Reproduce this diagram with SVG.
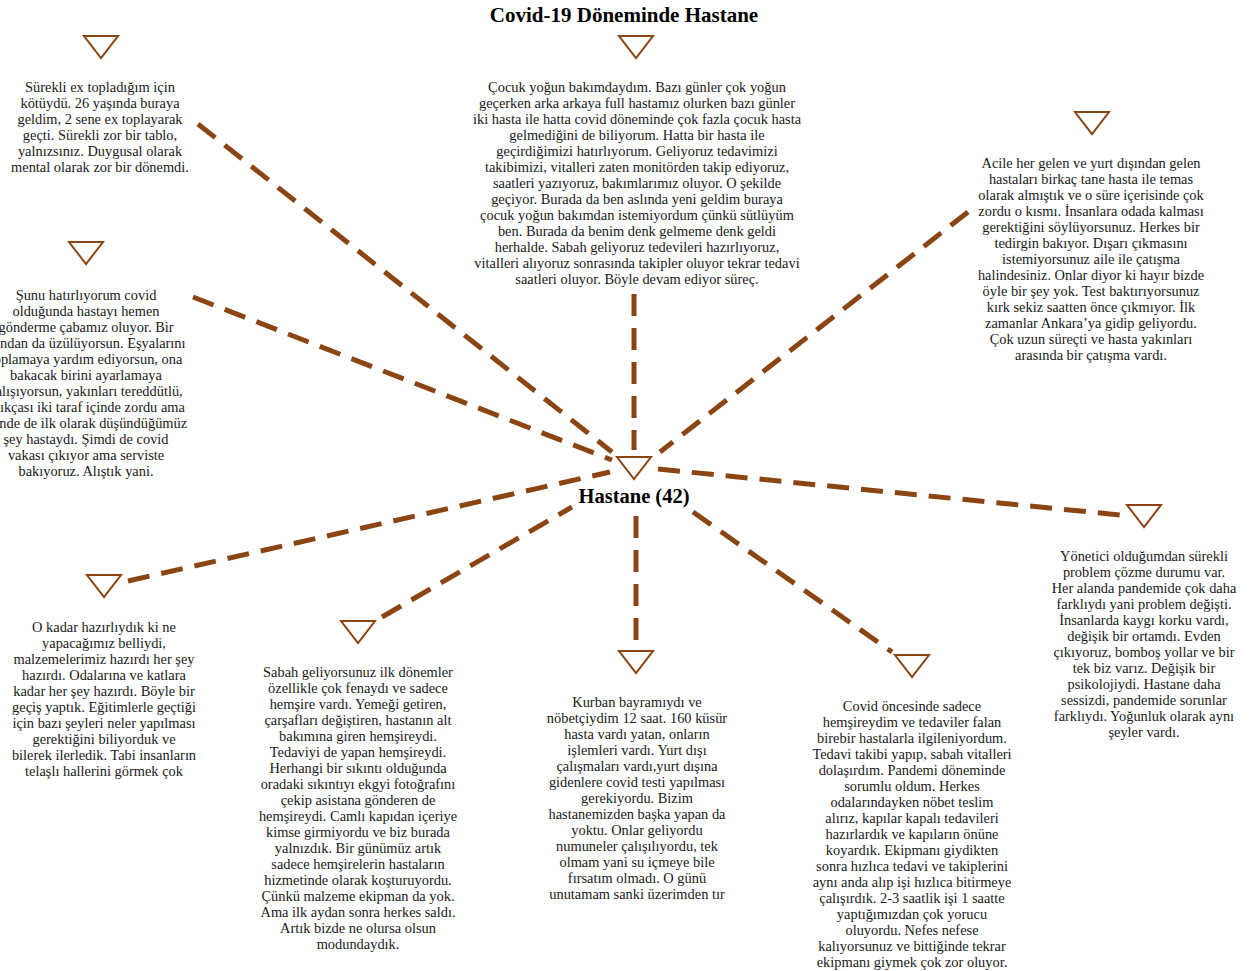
<svg xmlns="http://www.w3.org/2000/svg" width="1257" height="971" viewBox="0 0 1257 971">
<style>
.bg{fill:#ffffff}
.tri{fill:#ffffff;stroke:#8b4513;stroke-width:2;stroke-linejoin:miter}
.t{font-family:"Liberation Serif","Times New Roman",serif;font-size:14.4px;fill:#1a1a1a;text-anchor:middle}
.title{font-family:"Liberation Serif","Times New Roman",serif;font-size:21px;font-weight:bold;fill:#000;text-anchor:middle}
.hub{font-family:"Liberation Serif","Times New Roman",serif;font-size:20.5px;font-weight:bold;fill:#000;text-anchor:middle}
.c{stroke:#8b4513;stroke-width:5;stroke-dasharray:22 12;fill:none}
</style>
<rect class="bg" x="0" y="0" width="1257" height="971"/>
<text class="title" x="624" y="22">Covid-19 Döneminde Hastane</text>

<g id="connectors">
<line class="c" x1="198" y1="124" x2="612" y2="452"/>
<line class="c" x1="634" y1="294" x2="634" y2="450"/>
<line class="c" x1="968" y1="212" x2="660" y2="452"/>
<line class="c" x1="193" y1="297" x2="612" y2="460"/>
<line class="c" x1="128" y1="581" x2="610" y2="472"/>
<line class="c" x1="382" y1="617" x2="572" y2="507"/>
<line class="c" x1="636" y1="516" x2="636" y2="640"/>
<line class="c" x1="693" y1="512" x2="892" y2="652"/>
<line class="c" x1="658" y1="469" x2="1120" y2="515"/>
</g>

<g id="hub">
<path class="tri" d="M617,457 L651,457 L634,479 Z"/>
<text class="hub" x="634" y="503">Hastane (42)</text>
</g>

<g id="node1">
<path class="tri" d="M84,36 L118,36 L101,58 Z"/>
<text class="t"><tspan x="100" y="92">Sürekli ex topladığım için</tspan><tspan x="100" dy="16">kötüydü. 26 yaşında buraya</tspan><tspan x="100" dy="16">geldim, 2 sene ex toplayarak</tspan><tspan x="100" dy="16">geçti. Sürekli zor bir tablo,</tspan><tspan x="100" dy="16">yalnızsınız. Duygusal olarak</tspan><tspan x="100" dy="16">mental olarak zor bir dönemdi.</tspan></text>
</g>

<g id="node2">
<path class="tri" d="M619,36 L653,36 L636,58 Z"/>
<text class="t"><tspan x="637" y="92">Çocuk yoğun bakımdaydım. Bazı günler çok yoğun</tspan><tspan x="637" dy="16">geçerken arka arkaya full hastamız olurken bazı günler</tspan><tspan x="637" dy="16">iki hasta ile hatta covid döneminde çok fazla çocuk hasta</tspan><tspan x="637" dy="16">gelmediğini de biliyorum. Hatta bir hasta ile</tspan><tspan x="637" dy="16">geçirdiğimizi hatırlıyorum. Geliyoruz tedavimizi</tspan><tspan x="637" dy="16">takibimizi, vitalleri zaten monitörden takip ediyoruz,</tspan><tspan x="637" dy="16">saatleri yazıyoruz, bakımlarımız oluyor. O şekilde</tspan><tspan x="637" dy="16">geçiyor. Burada da ben aslında yeni geldim buraya</tspan><tspan x="637" dy="16">çocuk yoğun bakımdan istemiyordum çünkü sütlüyüm</tspan><tspan x="637" dy="16">ben. Burada da benim denk gelmeme denk geldi</tspan><tspan x="637" dy="16">herhalde. Sabah geliyoruz tedevileri hazırlıyoruz,</tspan><tspan x="637" dy="16">vitalleri alıyoruz sonrasında takipler oluyor tekrar tedavi</tspan><tspan x="637" dy="16">saatleri oluyor. Böyle devam ediyor süreç.</tspan></text>
</g>

<g id="node3">
<path class="tri" d="M1075,112 L1109,112 L1092,134 Z"/>
<text class="t"><tspan x="1091" y="168">Acile her gelen ve yurt dışından gelen</tspan><tspan x="1091" dy="16">hastaları birkaç tane hasta ile temas</tspan><tspan x="1091" dy="16">olarak almıştık ve o süre içerisinde çok</tspan><tspan x="1091" dy="16">zordu o kısmı. İnsanlara odada kalması</tspan><tspan x="1091" dy="16">gerektiğini söylüyorsunuz. Herkes bir</tspan><tspan x="1091" dy="16">tedirgin bakıyor. Dışarı çıkmasını</tspan><tspan x="1091" dy="16">istemiyorsunuz aile ile çatışma</tspan><tspan x="1091" dy="16">halindesiniz. Onlar diyor ki hayır bizde</tspan><tspan x="1091" dy="16">öyle bir şey yok. Test baktırıyorsunuz</tspan><tspan x="1091" dy="16">kırk sekiz saatten önce çıkmıyor. İlk</tspan><tspan x="1091" dy="16">zamanlar Ankara’ya gidip geliyordu.</tspan><tspan x="1091" dy="16">Çok uzun süreçti ve hasta yakınları</tspan><tspan x="1091" dy="16">arasında bir çatışma vardı.</tspan></text>
</g>

<g id="node4">
<path class="tri" d="M69,242 L103,242 L86,264 Z"/>
<text class="t"><tspan x="86" y="300">Şunu hatırlıyorum covid</tspan><tspan x="86" dy="16">olduğunda hastayı hemen</tspan><tspan x="86" dy="16">gönderme çabamız oluyor. Bir</tspan><tspan x="86" dy="16">yandan da üzülüyorsun. Eşyalarını</tspan><tspan x="86" dy="16">toplamaya yardım ediyorsun, ona</tspan><tspan x="86" dy="16">bakacak birini ayarlamaya</tspan><tspan x="86" dy="16">çalışıyorsun, yakınları tereddütlü,</tspan><tspan x="86" dy="16">açıkçası iki taraf içinde zordu ama</tspan><tspan x="86" dy="16">içinde de ilk olarak düşündüğümüz</tspan><tspan x="86" dy="16">şey hastaydı. Şimdi de covid</tspan><tspan x="86" dy="16">vakası çıkıyor ama serviste</tspan><tspan x="86" dy="16">bakıyoruz. Alıştık yani.</tspan></text>
</g>

<g id="node5">
<path class="tri" d="M87,575 L121,575 L104,597 Z"/>
<text class="t"><tspan x="104" y="632">O kadar hazırlıydık ki ne</tspan><tspan x="104" dy="16">yapacağımız belliydi,</tspan><tspan x="104" dy="16">malzemelerimiz hazırdı her şey</tspan><tspan x="104" dy="16">hazırdı. Odalarına ve katlara</tspan><tspan x="104" dy="16">kadar her şey hazırdı. Böyle bir</tspan><tspan x="104" dy="16">geçiş yaptık. Eğitimlerle geçtiği</tspan><tspan x="104" dy="16">için bazı şeyleri neler yapılması</tspan><tspan x="104" dy="16">gerektiğini biliyorduk ve</tspan><tspan x="104" dy="16">bilerek ilerledik. Tabi insanların</tspan><tspan x="104" dy="16">telaşlı hallerini görmek çok</tspan></text>
</g>

<g id="node6">
<path class="tri" d="M341,621 L375,621 L358,643 Z"/>
<text class="t"><tspan x="358" y="677">Sabah geliyorsunuz ilk dönemler</tspan><tspan x="358" dy="16">özellikle çok fenaydı ve sadece</tspan><tspan x="358" dy="16">hemşire vardı. Yemeği getiren,</tspan><tspan x="358" dy="16">çarşafları değiştiren, hastanın alt</tspan><tspan x="358" dy="16">bakımına giren hemşireydi.</tspan><tspan x="358" dy="16">Tedaviyi de yapan hemşireydi.</tspan><tspan x="358" dy="16">Herhangi bir sıkıntı olduğunda</tspan><tspan x="358" dy="16">oradaki sıkıntıyı ekgyi fotoğrafını</tspan><tspan x="358" dy="16">çekip asistana gönderen de</tspan><tspan x="358" dy="16">hemşireydi. Camlı kapıdan içeriye</tspan><tspan x="358" dy="16">kimse girmiyordu ve biz burada</tspan><tspan x="358" dy="16">yalnızdık. Bir günümüz artık</tspan><tspan x="358" dy="16">sadece hemşirelerin hastaların</tspan><tspan x="358" dy="16">hizmetinde olarak koşturuyordu.</tspan><tspan x="358" dy="16">Çünkü malzeme ekipman da yok.</tspan><tspan x="358" dy="16">Ama ilk aydan sonra herkes saldı.</tspan><tspan x="358" dy="16">Artık bizde ne olursa olsun</tspan><tspan x="358" dy="16">modundaydık.</tspan></text>
</g>

<g id="node7">
<path class="tri" d="M619,651 L653,651 L636,673 Z"/>
<text class="t"><tspan x="637" y="707">Kurban bayramıydı ve</tspan><tspan x="637" dy="16">nöbetçiydim 12 saat. 160 küsür</tspan><tspan x="637" dy="16">hasta vardı yatan, onların</tspan><tspan x="637" dy="16">işlemleri vardı. Yurt dışı</tspan><tspan x="637" dy="16">çalışmaları vardı,yurt dışına</tspan><tspan x="637" dy="16">gidenlere covid testi yapılması</tspan><tspan x="637" dy="16">gerekiyordu. Bizim</tspan><tspan x="637" dy="16">hastanemizden başka yapan da</tspan><tspan x="637" dy="16">yoktu. Onlar geliyordu</tspan><tspan x="637" dy="16">numuneler çalışılıyordu, tek</tspan><tspan x="637" dy="16">olmam yani su içmeye bile</tspan><tspan x="637" dy="16">fırsatım olmadı. O günü</tspan><tspan x="637" dy="16">unutamam sanki üzerimden tır</tspan></text>
</g>

<g id="node8">
<path class="tri" d="M895,655 L929,655 L912,677 Z"/>
<text class="t"><tspan x="912" y="711">Covid öncesinde sadece</tspan><tspan x="912" dy="16">hemşireydim ve tedaviler falan</tspan><tspan x="912" dy="16">birebir hastalarla ilgileniyordum.</tspan><tspan x="912" dy="16">Tedavi takibi yapıp, sabah vitalleri</tspan><tspan x="912" dy="16">dolaşırdım. Pandemi döneminde</tspan><tspan x="912" dy="16">sorumlu oldum. Herkes</tspan><tspan x="912" dy="16">odalarındayken nöbet teslim</tspan><tspan x="912" dy="16">alırız, kapılar kapalı tedavileri</tspan><tspan x="912" dy="16">hazırlardık ve kapıların önüne</tspan><tspan x="912" dy="16">koyardık. Ekipmanı giydikten</tspan><tspan x="912" dy="16">sonra hızlıca tedavi ve takiplerini</tspan><tspan x="912" dy="16">aynı anda alıp işi hızlıca bitirmeye</tspan><tspan x="912" dy="16">çalışırdık. 2-3 saatlik işi 1 saatte</tspan><tspan x="912" dy="16">yaptığımızdan çok yorucu</tspan><tspan x="912" dy="16">oluyordu. Nefes nefese</tspan><tspan x="912" dy="16">kalıyorsunuz ve bittiğinde tekrar</tspan><tspan x="912" dy="16">ekipmanı giymek çok zor oluyor.</tspan></text>
</g>

<g id="node9">
<path class="tri" d="M1127,505 L1161,505 L1144,527 Z"/>
<text class="t"><tspan x="1144" y="561">Yönetici olduğumdan sürekli</tspan><tspan x="1144" dy="16">problem çözme durumu var.</tspan><tspan x="1144" dy="16">Her alanda pandemide çok daha</tspan><tspan x="1144" dy="16">farklıydı yani problem değişti.</tspan><tspan x="1144" dy="16">İnsanlarda kaygı korku vardı,</tspan><tspan x="1144" dy="16">değişik bir ortamdı. Evden</tspan><tspan x="1144" dy="16">çıkıyoruz, bomboş yollar ve bir</tspan><tspan x="1144" dy="16">tek biz varız. Değişik bir</tspan><tspan x="1144" dy="16">psikolojiydi. Hastane daha</tspan><tspan x="1144" dy="16">sessizdi, pandemide sorunlar</tspan><tspan x="1144" dy="16">farklıydı. Yoğunluk olarak aynı</tspan><tspan x="1144" dy="16">şeyler vardı.</tspan></text>
</g>
</svg>
